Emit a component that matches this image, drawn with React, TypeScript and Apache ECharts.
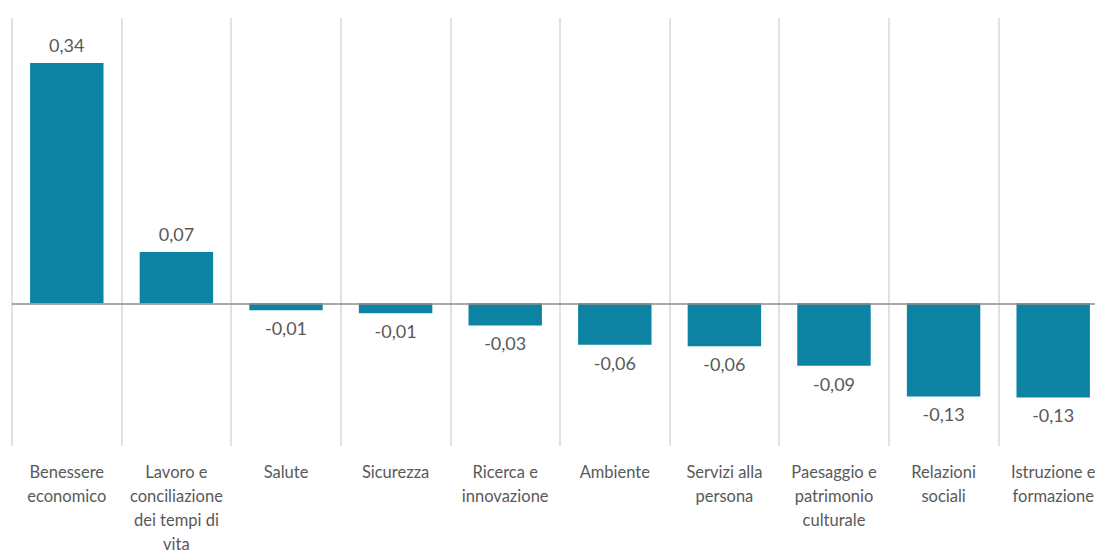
import React, { useEffect, useRef } from "react";
import * as echarts from "echarts";

const categories = [
  "Benessere\neconomico",
  "Lavoro e\nconciliazione\ndei tempi di\nvita",
  "Salute",
  "Sicurezza",
  "Ricerca e\ninnovazione",
  "Ambiente",
  "Servizi alla\npersona",
  "Paesaggio e\npatrimonio\nculturale",
  "Relazioni\nsociali",
  "Istruzione e\nformazione",
];
const values = [0.337, 0.072, -0.0097, -0.014, -0.031, -0.058, -0.06, -0.0875, -0.1306, -0.132];

export default function App() {
  const ref = useRef<HTMLDivElement>(null);
  useEffect(() => {
    if (!ref.current) return;
    const chart = echarts.init(ref.current, null, { renderer: "svg" });
    const fmt = (v: number) => v.toFixed(2).replace(".", ",");
    chart.setOption({
      animation: false,
      grid: { left: 12, right: 0, top: 18, bottom: 106 },
      xAxis: {
        type: "category",
        data: categories,
        axisLine: { show: false, onZero: false },
        axisTick: { show: false },
        splitLine: { show: true, lineStyle: { color: "#d9d9d9", width: 1.5 } },
        axisLabel: {
          interval: 0,
          color: "#595959",
          fontFamily: "Lato",
          fontSize: 16.5,
          lineHeight: 24,
          margin: 14,
        },
      },
      yAxis: {
        type: "value",
        min: -0.2,
        max: 0.4,
        show: false,
        splitLine: { show: false },
      },
      series: [
        {
          type: "bar",
          barWidth: "67%",
          itemStyle: { color: "#0d83a4" },
          data: values.map((v) => ({
            value: v,
            label: {
              show: true,
              position: v >= 0 ? "top" : "bottom",
              distance: 9,
              formatter: () => fmt(v),
              color: "#595959",
              fontFamily: "Lato",
              fontSize: 18,
            },
          })),
          markLine: {
            silent: true,
            symbol: "none",
            label: { show: false },
            lineStyle: { color: "#8c8c8c", width: 1.5, type: "solid" },
            data: [{ yAxis: 0 }],
          },
        },
      ],
    });
    return () => chart.dispose();
  }, []);
  return (
    <div
      style={{
        position: "absolute",
        left: 0,
        top: 0,
        width: 1095,
        height: 556,
        overflow: "hidden",
      }}
    >
      <div ref={ref} style={{ width: 1108, height: 556 }} />
    </div>
  );
}
